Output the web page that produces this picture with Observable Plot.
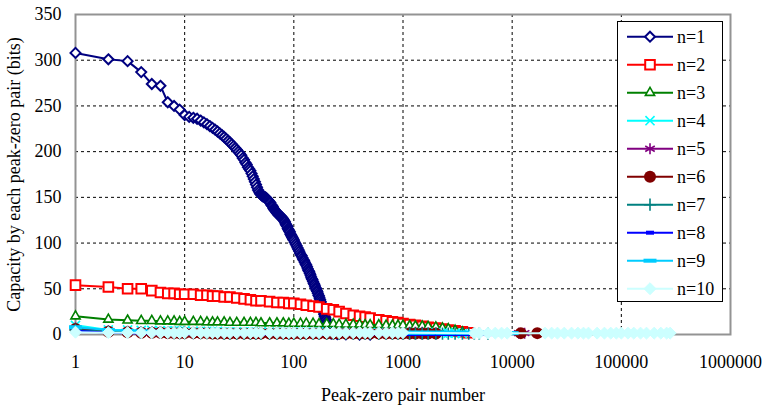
<!DOCTYPE html>
<html><head><meta charset="utf-8">
<script src="https://cdn.jsdelivr.net/npm/d3@7"></script>
<script src="https://cdn.jsdelivr.net/npm/@observablehq/plot@0.6"></script>
<style>
body{margin:0;background:#fff;}
#wrap{position:relative;width:762px;height:405px;}
#legend{position:absolute;left:617px;top:21px;}
#wrap svg, #wrap svg text{font-family:"Liberation Serif","DejaVu Serif",serif !important;}
</style></head><body><div id="wrap"></div>
<script>
const seriesNames = ["n=1","n=2","n=3","n=4","n=5","n=6","n=7","n=8","n=9","n=10"];
const seriesColors = ["#000080","#FF0000","#008000","#00FFFF","#800080","#800000","#008080","#0000FF","#00CCFF","#CCFFFF"];
const xTicks = [1,10,100,1000,10000,100000,1000000];
const yTicks = [0,50,100,150,200,250,300,350];
const xTitle = "Peak-zero pair number";
const yTitle = "Capacity by each peak-zero pair (bits)";

// shared pair-number positions for n=2..9
const gridX = [1,2,3,4,5,6,7,8,9,10,
  12,14,16,18,20, 23,26,30, 35,40,45,50, 60,70,80,90,100,
  115,130,150,170,200, 230,260,300, 350,400,450,500, 600,700,800,900,1000,
  1150,1300,1500,1700,2000, 2300,2600,3000, 3500,4000,4500,5000, 6000,7000,8000,9000,10000,
  11500,13000,15000,17000,20000, 23000,26000,30000, 35000,40000,45000,50000, 60000,70000,80000,90000,100000,
  115000,130000,150000,170000,200000, 230000,260000,280000];

const n1X = [1,2,3,4,5,6,7,8,9,10,11,12,13,14,15,16,17,18,19,
  20,21,22,23,24,25,26,27,28,29,30,31,32,33,34,35,36,37,38,39,40,41,42,43,44,45,46,47,48,49,50,
  51,52,53,54,55,56,57,58,59,60,61,62,63,64,65,66,67,68,69,70,71,72,73,74,75,
  76,77,78,79,80,81,82,83,84,85,86,87,88,89,90,91,92,93,94,95,96,97,98,99,100,
  102,104,106,108,110,112,114,116,118,120,122,124,126,128,130,132,134,136,138,140,
  142,144,146,148,150,152,154,156,158,160,162,164,166,168,170,172,174,176,178,180,
  182,184,186,188,190,192,194,196,198,200,202,204,206,
  210,220,250,300,400,500];
const n1Y = [308,301,299,287,274,272,254,250,246,240,238,237,236,234,232,230,228,226,224,
  222,220,218,216,214,212,210,208,206,204,202,200,198,196,193,191,188,186,183,181,179,176,173,170,167,164,161,158,156,154,153,
  152,151,151,150,150,149,148,147,146,145,144,142,141,140,138,137,136,135,134,133,132,131,131,130,130,
  129,128,128,127,126,125,124,123,121,120,119,118,116,115,114,113,112,110,109,108,107,106,105,104,103,
  101,99,97,95,93,91,89,87,86,84,82,81,79,77,76,74,72,70,69,67,
  65,63,61,60,58,56,55,53,51,50,48,47,45,43,42,40,38,36,34,32,
  30,28,26,24,22,20,18,16,14,12,9,7,5,
  3,1,0.5,0.3,0,0];

const n2Y = [54,52,50,50,48,46,45,45,44,44, 44,43,43,42,42, 41,41,40, 39,38,37,37, 36,35,35,34,34,
  33,32,31,30,28, 27,25,23, 21,20,19,18, 16,15,14,13,12, 11,10,9,8,7, 6,5,4, 3,2];
const n3Y = [20,16.5,15.5,15,15,14.5,14.5,14.5,14,14, 14,14,13.5,13.5,13.5, 13.5,13,13, 13,13,13,12.5,
  12.5,12.5,12.5,12,12, 12,12,12,11.5,11.5, 11.5,11,11, 11,11,10.5,10.5, 10.5,10,10,10,10,
  9.5,9,9,8.5,8, 7,6,4.5, 2.5];
const n4Y = [10,5,5,4.5,4.5,4,4,4,4,4, 3.5,3.5,3.5,3.5,3.5, 3,3,3, 3,3,3,3, 2.5,2.5,2.5,2.5,2.5,
  2.5,2.5,2.5,2.5,2.5, 2,2,2, 2,2,2,2, 2,2,2,2,2, 2,2,2,2,2, 1.5,1.5,1.5, 1];
const n5X = [1,2,3,4,5,6,7,8,9,10, 12,14,16,18,20, 23,26,30, 35,40,45,50, 60,70,80,90,100,
  115,130,150,170,200, 230,260,300, 350,400,450,500, 600,700,800,900,1000,
  1150,1300,1500, 11500,13000];
const n5Y = [7,4,3.5,3,3,3,2.5,2.5,2.5,2.5, 2.5,2.5,2,2,2, 2,2,2, 2,2,2,2, 2,2,2,2,2,
  2,2,2,2,2, 2,2,2, 2,2,2,2, 2,2,2,2,2, 2.5,2.5,2.5, 1.5,1.5];
const n6X = [1,2,3,4,5,6,7,8,9,10, 12,14,16,18,20, 23,26,30, 35,40,45,50, 60,70,80,90,100,
  115,130,150,170,200, 230,260,300, 350,400,450,500, 600,700,800,900,1000,
  1150,1300,1500,1700,2000, 12000,17000];
const n6Y = [6,3,2.5,2,2,2,1.5,1.5,1.5,1.5, 1.5,1.5,1.5,1,1, 1,1,1, 1,1,1,1, 1,1,1,1,1,
  1,1,1,1,1, 1,1,1, 1,1,1,1, 1,1,1,1,1, 1,1,1,1,1, 1.5,1.5];
const n7Y = [5,3,2.5,2,2,2,2,1.5,1.5,1.5, 1.5,1.5,1.5,1.5,1.5, 1,1,1, 1,1,1,1, 1,1,1,1,1,
  1,1,1,1,1, 1,1,1, 1,1,1,1, 1,1,1,1,1, 1,1,1,1,1, 1,1,1, 1,1,1,1, 1];
const n8Y = [4,2,1.5,1,1,1,1,1,1,1, 1,1,1,1,1, 0.5,0.5,0.5, 0.5,0.5,0.5,0.5, 0.5,0.5,0.5,0.5,0.5,
  0.5,0.5,0.5,0.5,0.5, 0.5,0.5,0.5, 0.5,0.5,0.5,0.5, 0.5,0.5,0.5,0.5,0.5, 0.5,0.5,0.5,0.5,0.5,
  0.5,0.5,0.5, 0.5,0.5,0.5,0.5, 0.5,0.5,0.5];
const n9Y = [8,5,4,3.5,3,3,3,3,3,3, 2.5,2.5,2.5,2.5,2.5, 2.5,2.5,2.5, 2,2,2,2, 2,2,2,2,2,
  2,2,2,2,2, 2,2,2, 2,2,2,2, 2,2,2,2,2, 2,2,2,2,2, 2,2,2, 2,2,2,2, 1.5,1.5,1.5,1.5,1.5];
const n10X = [1,2,3,4,5,6,7,8,9,10, 12,14,16,18,20, 23,26,30, 35,40,45,50, 60,70,80,90,100,
  115,130,150,170,200, 230,260,300, 350,400,450,500, 600,700,800,900,1000,
  4500,5000,6000,7000,8000,9000,
  20000,23000,26000,30000,35000,40000,45000,50000,60000,70000,80000,90000,100000,
  115000,130000,150000,170000,200000,230000,260000,280000];
const n10Y = [2.5,2,2,2,2,2,2,2,2,2, 2,2,2,2,2, 2,2,2, 2,2,2,2, 2,2,2,2,2,
  2,2,2,2,2, 2,2,2, 2,2,2,2, 2,2,2,2,2,
  1.5,1.5,1.5,1.5,1.5,1.5,
  1.5,1.5,1.5,1.5,1.5,1.5,1.5,1.5,1.5,1.5,1.5,1.5,1.5,
  1.5,1.5,1.5,1.5,1.5,1.5,1.5,1.5];

const seriesX = [n1X, gridX, gridX, gridX, n5X, n6X, gridX, gridX, gridX, n10X];
const seriesY = [n1Y, n2Y, n3Y, n4Y, n5Y, n6Y, n7Y, n8Y, n9Y, n10Y];

const rectSym = (w, h) => ({draw(ctx){ctx.moveTo(-w/2,-h/2);ctx.lineTo(w/2,-h/2);ctx.lineTo(w/2,h/2);ctx.lineTo(-w/2,h/2);ctx.closePath();}});
const markerStyles = [
  {symbol: d3.symbolDiamond2, r: 4.5, fill: "white", sw: 2},
  {symbol: d3.symbolSquare2, r: 6.1, fill: "white", sw: 2},
  {symbol: d3.symbolTriangle2, r: 4.4, fill: "white", sw: 1.6},
  {symbol: d3.symbolTimes, r: 4.2, fill: "none", sw: 1.6},
  {symbol: d3.symbolAsterisk, r: 5.2, fill: "none", sw: 1.6},
  {symbol: d3.symbolCircle, r: 6, fill: "c", sw: 0},
  {symbol: d3.symbolPlus, r: 4, fill: "none", sw: 1.6},
  {symbol: rectSym(8,4), r: 4, fill: "c", sw: 0},
  {symbol: rectSym(13,4), r: 4, fill: "c", sw: 0},
  {symbol: d3.symbolDiamond2, r: 5.4, fill: "c", sw: 1}
];

const FONT = '"Liberation Serif", "DejaVu Serif", serif';
const marks = [
  Plot.gridX(xTicks.slice(1, -1), {stroke: "black", strokeOpacity: 1, strokeWidth: 1, strokeDasharray: "3,3"}),
  Plot.gridY(yTicks.slice(1, -1), {stroke: "black", strokeOpacity: 1, strokeWidth: 1, strokeDasharray: "3,3"}),
  Plot.frame({stroke: "#939393", strokeWidth: 2}),
  Plot.axisX({ticks: xTicks, tickSize: 0, tickPadding: 21, tickFormat: d => String(d), fontFamily: FONT,
    label: xTitle, labelAnchor: "center", labelArrow: "none", labelOffset: 66}),
  Plot.axisY({ticks: yTicks, tickSize: 0, tickPadding: 14, fontFamily: FONT,
    label: yTitle, labelAnchor: "center", labelArrow: "none", labelOffset: 68})
];
seriesNames.forEach((name, i) => {
  const rows = seriesY[i].map((y, j) => ({x: seriesX[i][j], y}));
  const c = seriesColors[i];
  const ms = markerStyles[i];
  marks.push(Plot.line(rows, {x: "x", y: "y", stroke: c, strokeWidth: 2}));
  marks.push(Plot.dot(rows, {x: "x", y: "y", symbol: ms.symbol, r: ms.r,
    fill: ms.fill === "c" ? c : ms.fill, stroke: ms.sw ? c : "none", strokeWidth: ms.sw || 1}));
});

const chart = Plot.plot({
  width: 762, height: 405,
  marginLeft: 75, marginRight: 32, marginTop: 14, marginBottom: 71,
  x: {type: "log", domain: [1, 1e6]},
  y: {domain: [0, 350]},
  style: {fontFamily: FONT, fontSize: "18px", color: "black", background: "white", overflow: "visible"},
  marks
});
document.getElementById("wrap").appendChild(chart);

// legend
const leg = d3.select("#wrap").append("svg").attr("id", "legend").attr("width", 107).attr("height", 282)
  .attr("font-family", FONT).attr("font-size", 18);
leg.append("rect").attr("x", 0.5).attr("y", 0.5).attr("width", 105).attr("height", 280)
  .attr("fill", "white").attr("stroke", "black").attr("stroke-width", 1);
seriesNames.forEach((name, i) => {
  const cy = 15.7 + 28 * i;
  const c = seriesColors[i];
  const ms = markerStyles[i];
  const g = leg.append("g").attr("transform", `translate(0,${cy})`);
  g.append("line").attr("x1", 10).attr("x2", 56).attr("stroke", c).attr("stroke-width", 2);
  g.append("path").attr("transform", "translate(33,0)")
    .attr("d", d3.symbol(ms.symbol, ms.r * ms.r * Math.PI)())
    .attr("fill", ms.fill === "c" ? c : ms.fill)
    .attr("stroke", ms.sw ? c : "none").attr("stroke-width", ms.sw || 1);
  g.append("text").attr("x", 60).attr("y", 6.5).attr("fill", "black").text(name);
});
</script></body></html>
